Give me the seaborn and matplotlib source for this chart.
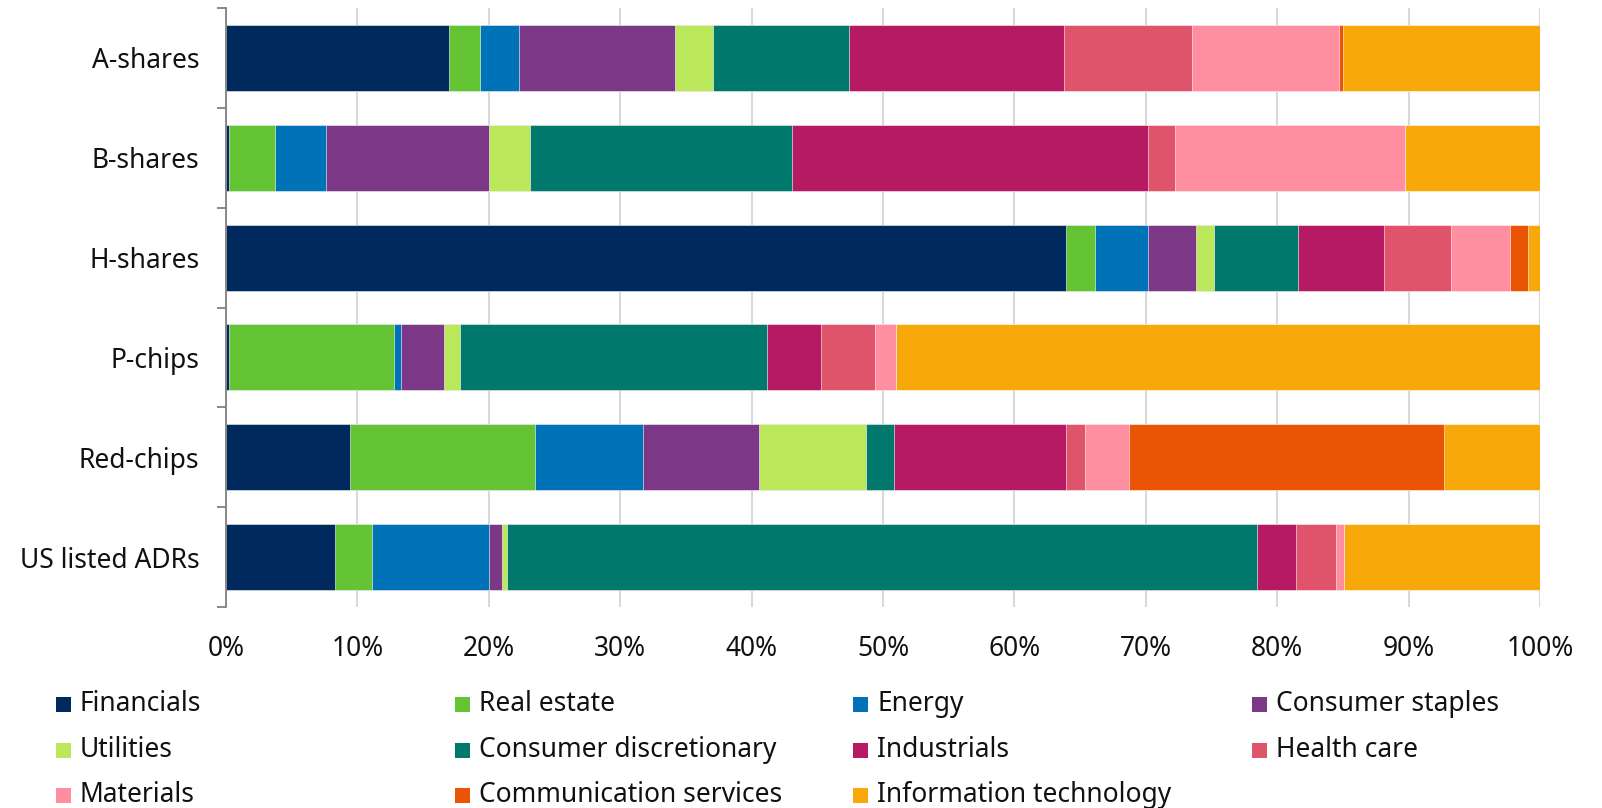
import matplotlib
matplotlib.use("Agg")
import matplotlib.pyplot as plt
from matplotlib.patches import Rectangle
from matplotlib.ticker import FixedLocator
import seaborn as sns
import pandas as pd
import numpy as np

categories = ["A-shares", "B-shares", "H-shares", "P-chips", "Red-chips", "US listed ADRs"]
sectors = ["Financials", "Real estate", "Energy", "Consumer staples", "Utilities",
           "Consumer discretionary", "Industrials", "Health care", "Materials",
           "Communication services", "Information technology"]
colors = ["#002A5E", "#65C434", "#0072B7", "#7C3786", "#BBE75A", "#00786C",
          "#B61A62", "#DF546B", "#FF8FA0", "#EA5405", "#F8A808"]

a_shares = [16.95, 2.35, 3.0, 11.9, 2.9, 10.3, 16.4, 9.7, 11.2, 0.3, 15.0]
b_shares = [0.2, 3.5, 3.9, 12.4, 3.1, 20.0, 27.1, 2.0, 17.5, 0.0, 10.3]
h_shares = [63.9, 2.2, 4.1, 3.6, 1.4, 6.4, 6.5, 5.1, 4.5, 1.4, 0.9]
p_chips = [0.2, 12.6, 0.5, 3.3, 1.2, 23.4, 4.1, 4.1, 1.6, 0.0, 49.0]
red_chips = [9.4, 14.1, 8.2, 8.9, 8.1, 2.1, 13.1, 1.5, 3.3, 24.0, 7.3]
us_adrs = [8.3, 2.8, 8.9, 1.0, 0.4, 57.1, 2.9, 3.1, 0.6, 0.0, 14.9]

xticks = [0, 10, 20, 30, 40, 50, 60, 70, 80, 90, 100]
xticklabels = [f"{t}%" for t in xticks]

sns.set_theme(style="white")
plt.rcParams["font.family"] = ["Noto Sans", "DejaVu Sans"]

values = np.array([a_shares, b_shares, h_shares, p_chips, red_chips, us_adrs])
cum = np.cumsum(values, axis=1)
df = pd.DataFrame(cum, columns=sectors)
df["category"] = categories

W, H = 1602, 808
FS = 19
fig = plt.figure(figsize=(W / 100, H / 100), dpi=100)
ax = fig.add_axes([226 / W, 1 - 607 / H, (1540 - 226) / W, (607 - 8) / H])

# overlay cumulative bars, from the rightmost segment back to the first
for i in range(len(sectors) - 1, -1, -1):
    sns.barplot(data=df, x=sectors[i], y="category", order=categories,
                color=colors[i], saturation=1, width=0.66, orient="h",
                edgecolor="white", linewidth=0.4, ax=ax)

ax.set_xlim(0, 100)
ax.set_ylim(5.5, -0.5)
ax.set_xlabel("")
ax.set_ylabel("")
ax.set_xticks(xticks)
ax.set_xticklabels(xticklabels, fontsize=FS, color="#111111")
ax.tick_params(axis="x", length=0, pad=20)
ax.tick_params(axis="y", which="major", length=0, pad=19, labelsize=FS, labelcolor="#111111")
ax.yaxis.set_minor_locator(FixedLocator(np.arange(-0.5, 6.0, 1.0)))
ax.tick_params(axis="y", which="minor", length=6.5, width=1.3, color="#808080", left=True)
ax.grid(axis="x", color="#D9D9D9", linewidth=1.5)
ax.set_axisbelow(True)
for s in ["top", "right", "bottom"]:
    ax.spines[s].set_visible(False)
ax.spines["left"].set_color("#808080")
ax.spines["left"].set_linewidth(1.3)

# legend laid out in rows of four
col_x = [56, 455, 853, 1252]
row_y = [704, 750, 795]
sq = 15
for k, (name, c) in enumerate(zip(sectors, colors)):
    r, cidx = divmod(k, 4)
    x0 = col_x[cidx]
    yc = row_y[r]
    fig.patches.append(Rectangle((x0 / W, 1 - (yc + sq / 2) / H), sq / W, sq / H,
                                 transform=fig.transFigure, facecolor=c, edgecolor="none"))
    fig.text((x0 + 24) / W, 1 - yc / H, name, fontsize=FS, color="#111111",
             va="center", ha="left")

fig.savefig("out.png", dpi=100)
